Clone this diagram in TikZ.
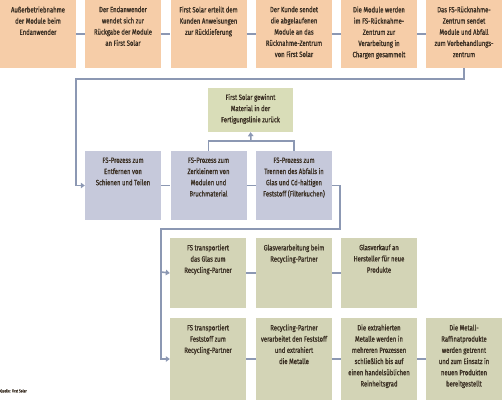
\documentclass[tikz,border=0pt]{standalone}
\usepackage{fontspec}
\setmainfont{Fira Sans}[FakeStretch=0.78, FakeBold=1.2]
\usetikzlibrary{arrows.meta}
\definecolor{peach}{HTML}{F6CDA8}
\definecolor{lila}{HTML}{C6C9DB}
\definecolor{oliv}{HTML}{D3D4B6}
\definecolor{hellgruen}{HTML}{D9DDB8}
\definecolor{linie}{HTML}{8C98B3}
\definecolor{schrift}{HTML}{3B3024}
\newcommand{\kasten}[2]{\parbox[c][#1][t]{74pt}{\centering\vspace*{6.5pt}#2}}
\tikzset{
  kbox/.style={inner sep=0pt, minimum width=76pt, text=schrift,
    font=\fontsize{7.6}{11.2}\selectfont},
  topbox/.style={kbox, fill=peach},
  probox/.style={kbox, fill=lila},
  recbox/.style={kbox, fill=oliv},
  verb/.style={draw=linie, line width=1.6pt},
  pfeil/.style={verb, -{Triangle[width=5.5pt,length=4pt]}}
}
\begin{document}
\begin{tikzpicture}[x=1pt, y=1pt]
    \useasboundingbox (0,0) rectangle (502,400);
    % obere Reihe
    \node[topbox] (T1) at (38,366) {\kasten{68pt}{Außerbetriebnahme\\der Module beim\\Endanwender}};
    \node[topbox] (T2) at (123,366) {\kasten{68pt}{Der Endanwender\\wendet sich zur\\Rückgabe der Module\\an First Solar}};
    \node[topbox] (T3) at (208.5,366) {\kasten{68pt}{First Solar erteilt dem\\Kunden Anweisungen\\zur Rücklieferung}};
    \node[topbox] (T4) at (294,366) {\kasten{68pt}{Der Kunde sendet\\die abgelaufenen\\Module an das\\Rücknahme-Zentrum\\von First Solar}};
    \node[topbox] (T5) at (379,366) {\kasten{68pt}{Die Module werden\\im FS-Rücknahme-\\Zentrum zur\\Verarbeitung in\\Chargen gesammelt}};
    \node[topbox] (T6) at (464,366) {\kasten{68pt}{Das FS-Rücknahme-\\Zentrum sendet\\Module und Abfall\\zum Vorbehandlungs-\\zentrum}};
    \foreach \a/\b in {T1/T2, T2/T3, T3/T4, T4/T5, T5/T6}
        \draw[verb] (\a) -- (\b);
    % Vorbehandlung
    \node[probox] (P1) at (123,214.5) {\kasten{69pt}{FS-Prozess zum\\Entfernen von\\Schienen und Teilen}};
    \node[probox] (P2) at (208.5,214.5) {\kasten{69pt}{FS-Prozess zum\\Zerkleinern von\\Modulen und\\Bruchmaterial}};
    \node[probox] (P3) at (294,214.5) {\kasten{69pt}{FS-Prozess zum\\Trennen des Abfalls in\\Glas und Cd-haltigen\\Feststoff (Filterkuchen)}};
    \node[kbox, fill=hellgruen, minimum width=85pt] (G) at (250.5,290) {\parbox[c][44pt][t]{83pt}{\centering\vspace*{6pt}First Solar gewinnt\\Material in der\\Fertigungslinie zurück}};
    \draw[pfeil] (T6.south) |- (76,321) |- (P1.west);
    \draw[verb] (P1) -- (P2);
    \draw[verb] (P2) -- (P3);
    \draw[verb] (P2.north) |- (251,259) -| (P3.north);
    \draw[pfeil] (251,259) -- (G.south);
    % Recycling
    \node[recbox] (R1) at (208,127) {\kasten{70pt}{FS transportiert\\das Glas zum\\Recycling-Partner}};
    \node[recbox] (R2) at (294,127) {\kasten{70pt}{Glasverarbeitung beim\\Recycling-Partner}};
    \node[recbox] (R3) at (379,127) {\kasten{70pt}{Glasverkauf an\\Hersteller für neue\\Produkte}};
    \node[recbox] (S1) at (208,41) {\kasten{82pt}{FS transportiert\\Feststoff zum\\Recycling-Partner}};
    \node[recbox] (S2) at (294,41) {\kasten{82pt}{Recycling-Partner\\verarbeitet den Feststoff\\und extrahiert\\die Metalle}};
    \node[recbox] (S3) at (379,41) {\kasten{82pt}{Die extrahierten\\Metalle werden in\\mehreren Prozessen\\schließlich bis auf\\einen handelsüblichen\\Reinheitsgrad}};
    \node[recbox] (S4) at (464,41) {\kasten{82pt}{Die Metall-\\Raffinatprodukte\\werden getrennt\\und zum Einsatz in\\neuen Produkten\\bereitgestellt}};
    \coordinate (K) at (161,128);
    \draw[verb] (P3.east) -| (340,171) -| (K);
    \draw[pfeil] (K) -- (R1.west);
    \draw[pfeil] (K) |- (S1.west);
    \foreach \a/\b in {R1/R2, R2/R3, S1/S2, S2/S3, S3/S4}
        \draw[verb] (\a) -- (\b);
    \node[anchor=west, inner sep=0pt, text=schrift, font=\fontsize{4.2}{5}\selectfont] (Q) at (0,9) {Quelle: First Solar};
\end{tikzpicture}
\end{document}
